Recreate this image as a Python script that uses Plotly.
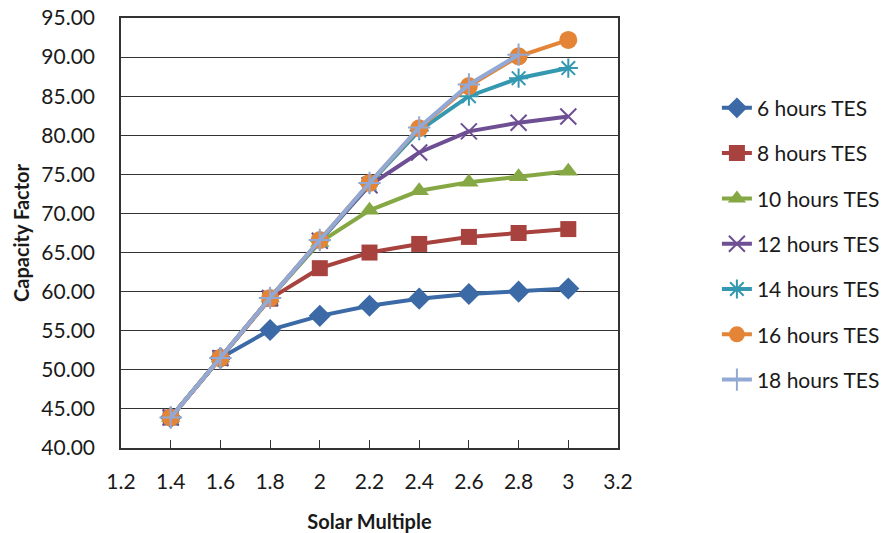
import plotly.graph_objects as go

# Solar multiple (x) and capacity factor per thermal-storage size
solar_multiple = [1.4, 1.6, 1.8, 2.0, 2.2, 2.4, 2.6, 2.8, 3.0]

cf_6h = [43.9, 51.5, 55.1, 56.9, 58.2, 59.1, 59.7, 60.0, 60.4]
cf_8h = [43.9, 51.5, 59.1, 63.0, 65.0, 66.1, 67.0, 67.5, 68.0]
cf_10h = [43.9, 51.5, 59.2, 66.3, 70.4, 72.9, 74.0, 74.7, 75.4]
cf_12h = [43.9, 51.5, 59.2, 66.5, 73.6, 77.8, 80.5, 81.6, 82.4]
cf_14h = [43.9, 51.5, 59.2, 66.5, 73.8, 80.6, 85.0, 87.3, 88.6]
cf_16h = [43.9, 51.5, 59.2, 66.6, 73.9, 80.9, 86.3, 90.1, 92.2]
cf_18h = [43.9, 51.5, 59.2, 66.6, 73.9, 81.0, 86.5, 90.3, None]

series_names = ["6 hours TES", "8 hours TES", "10 hours TES", "12 hours TES",
                "14 hours TES", "16 hours TES", "18 hours TES"]

x_tick_vals = [1.2, 1.4, 1.6, 1.8, 2.0, 2.2, 2.4, 2.6, 2.8, 3.0, 3.2]
x_tick_text = ["1.2", "1.4", "1.6", "1.8", "2", "2.2", "2.4", "2.6", "2.8", "3", "3.2"]
y_tick_vals = [40, 45, 50, 55, 60, 65, 70, 75, 80, 85, 90, 95]
y_tick_text = [f"{v:.2f}" for v in y_tick_vals]

series_values = [cf_6h, cf_8h, cf_10h, cf_12h, cf_14h, cf_16h, cf_18h]
colors = ["#3b6aa6", "#a8423f", "#86a844", "#6f4f94", "#3498b0", "#e38437", "#93a9d5"]
symbols = ["diamond", "square", "triangle-up", "x-thin", "asterisk", "circle", "cross-thin"]
sizes = [17, 16, 17, 16, 16, 18, 16]

fig = go.Figure()
for i, (name, vals) in enumerate(zip(series_names, series_values)):
    open_sym = symbols[i].endswith("thin") or symbols[i] == "asterisk"
    fig.add_trace(go.Scatter(
        x=solar_multiple, y=vals, name=name, mode="lines+markers",
        legendgroup=name,
        line=dict(color=colors[i], width=4),
        marker=dict(symbol=symbols[i], size=sizes[i], color=colors[i],
                    line=dict(color=colors[i], width=2 if open_sym else 0)),
        connectgaps=False,
    ))

font_family = "Lato, 'Open Sans', sans-serif"

fig.update_layout(
    width=893, height=533,
    margin=dict(l=121, r=275, t=18, b=85, autoexpand=False),
    paper_bgcolor="white", plot_bgcolor="white",
    font=dict(family=font_family, size=21, color="#1a1a1a"),
    showlegend=True,
    legend=dict(
        x=1.199, xanchor="left", y=0.838, yanchor="top",
        traceorder="grouped", tracegroupgap=15,
        font=dict(size=21, color="#1a1a1a"),
        bgcolor="rgba(0,0,0,0)",
    ),
    xaxis=dict(
        range=[1.2, 3.2], tickvals=x_tick_vals, ticktext=x_tick_text,
        showgrid=False, zeroline=False, automargin=False,
        showline=True, linecolor="#333333", linewidth=1.5, mirror=True,
        ticks="inside", ticklen=8, tickcolor="#333333",
        tickfont=dict(size=21), ticklabelstandoff=14,
        title=dict(text="<b>Solar Multiple</b>", font=dict(size=20), standoff=25),
    ),
    yaxis=dict(
        range=[40, 95], tickvals=y_tick_vals, ticktext=y_tick_text,
        showgrid=True, gridcolor="#333333", gridwidth=1.2,
        zeroline=False, automargin=False,
        showline=True, linecolor="#333333", linewidth=1.5, mirror=True,
        ticks="", tickfont=dict(size=21), ticklabelstandoff=20,
        title=dict(text="<b>Capacity Factor</b>", font=dict(size=20), standoff=6),
    ),
)

fig.write_html("out.html")
